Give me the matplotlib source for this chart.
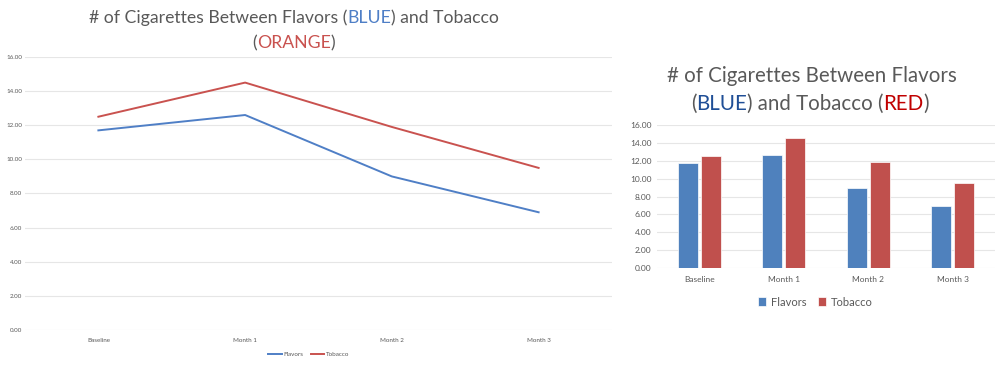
import matplotlib
matplotlib.use("Agg")
import matplotlib.pyplot as plt
import numpy as np

categories = ["Baseline", "Month 1", "Month 2", "Month 3"]
flavors = [11.7, 12.6, 9.0, 6.9]
tobacco = [12.5, 14.5, 11.9, 9.5]
yticks = [0, 2, 4, 6, 8, 10, 12, 14, 16]

plt.rcParams['font.family'] = ['Lato', 'DejaVu Sans']
GRAY = '#595959'
GRID = '#e6e6e6'

fig = plt.figure(figsize=(10, 3.65), dpi=100)
fig.patch.set_facecolor('white')


def colored_line(fig, xc, y, pieces, size):
    # draw a line of text made of differently coloured pieces, centred on xc
    renderer = fig.canvas.get_renderer()
    texts = []
    x = 0
    for s, c in pieces:
        t = fig.text(x, y, s, color=c, fontsize=size, ha='left', va='baseline')
        w = t.get_window_extent(renderer).width / fig.bbox.width
        texts.append((t, x))
        x += w
    start = xc - x / 2
    for t, off in texts:
        t.set_x(start + off)


def style_axes(ax, tick_size):
    for s in ax.spines.values():
        s.set_visible(False)
    ax.set_ylim(0, 16)
    ax.set_yticks(yticks)
    ax.set_yticklabels([f"{v:.2f}" for v in yticks])
    ax.yaxis.grid(True, color=GRID, linewidth=0.8)
    ax.set_axisbelow(True)
    ax.tick_params(length=0, labelsize=tick_size, colors=GRAY)
    ax.set_xlim(-0.5, len(categories) - 0.5)
    ax.set_xticks(range(len(categories)))
    ax.set_xticklabels(categories)


# left: line chart
ax1 = fig.add_axes([0.025, 1 - 330 / 365, 0.587, (330 - 57) / 365])
x = np.arange(len(categories))
ax1.plot(x, flavors, color='#4f7fc6', linewidth=1.4, label='Flavors')
ax1.plot(x, tobacco, color='#c9524f', linewidth=1.4, label='Tobacco')
style_axes(ax1, 4.5)
ax1.tick_params(axis='y', pad=2)
ax1.tick_params(axis='x', pad=6)
ax1.legend(loc='upper center', bbox_to_anchor=(0.483, -0.06), ncol=2, frameon=False,
           fontsize=4.5, labelcolor=GRAY, handlelength=2.2, columnspacing=1.2,
           handletextpad=0.2)

colored_line(fig, 0.294, 1 - 23 / 365,
             [("# of Cigarettes Between Flavors (", GRAY), ("BLUE", '#4f7fc6'),
              (") and Tobacco", GRAY)], 12.7)
colored_line(fig, 0.294, 1 - 48 / 365,
             [("(", GRAY), ("ORANGE", '#c9524f'), (")", GRAY)], 12.7)

# right: bar chart
ax2 = fig.add_axes([0.657, 1 - 268 / 365, 0.338, (268 - 125) / 365])
w = 0.24
ax2.bar(x - w / 2 - 0.015, flavors, w, color='#4f81bd', edgecolor='white', linewidth=0.5, label='Flavors')
ax2.bar(x + w / 2 + 0.015, tobacco, w, color='#c0504d', edgecolor='white', linewidth=0.5, label='Tobacco')
style_axes(ax2, 6)
ax2.tick_params(axis='y', pad=4)
ax2.tick_params(axis='x', pad=6)
ax2.legend(loc='upper center', bbox_to_anchor=(0.468, -0.13), ncol=2, frameon=False,
           fontsize=8, labelcolor=GRAY, handlelength=0.8, handleheight=0.8,
           columnspacing=1.0, handletextpad=0.4)

colored_line(fig, 0.812, 1 - 82 / 365,
             [("# of Cigarettes Between Flavors", GRAY)], 14.8)
colored_line(fig, 0.81, 1 - 110 / 365,
             [("(", GRAY), ("BLUE", '#1f4e96'), (") and Tobacco (", GRAY),
              ("RED", '#c00000'), (")", GRAY)], 14.8)

fig.savefig("out.png", dpi=100, facecolor='white')
